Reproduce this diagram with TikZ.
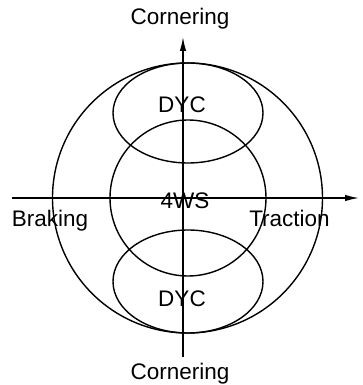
\documentclass[tikz,border=0pt]{standalone}
\usepackage{fontspec}
\setmainfont{Liberation Sans}
\usetikzlibrary{arrows.meta}

\begin{document}
\begin{tikzpicture}[
  x=1pt, y=1pt,
  axis/.style={line width=1.4pt, -{Latex[length=14pt, width=6.5pt]}},
  region/.style={line width=1.4pt},
  lbl/.style={font=\fontsize{22.5}{26}\selectfont, inner sep=0pt, anchor=base},
]
\useasboundingbox (-183, -187) rectangle (179, 198);

% friction circle and control regions
\draw[region] (4.5, 0) circle (135);
\draw[region] (5, 0) circle (78);
\draw[region] (5, 85) ellipse (75 and 50);
\draw[region] (5, -83.5) ellipse (75 and 51.5);

% axes
\coordinate (south) at (0, -159);
\coordinate (north) at (0, 161);
\coordinate (west) at (-171, 0);
\coordinate (east) at (176, 0);
\draw[axis] (south) -- (north);
\draw[axis] (west) -- (east);

\node[lbl] (cornerN) at (-3, 173) {Cornering};
\node[lbl] (cornerS) at (-3, -181) {Cornering};
\node[lbl] (braking) at (-133, -29) {Braking};
\node[lbl] (traction) at (106.5, -29) {Traction};
\node[lbl] (fws) at (2, -11) {4WS};
\node[lbl] (dycN) at (-1, 85) {DYC};
\node[lbl] (dycS) at (-1, -108) {DYC};

\end{tikzpicture}
\end{document}
